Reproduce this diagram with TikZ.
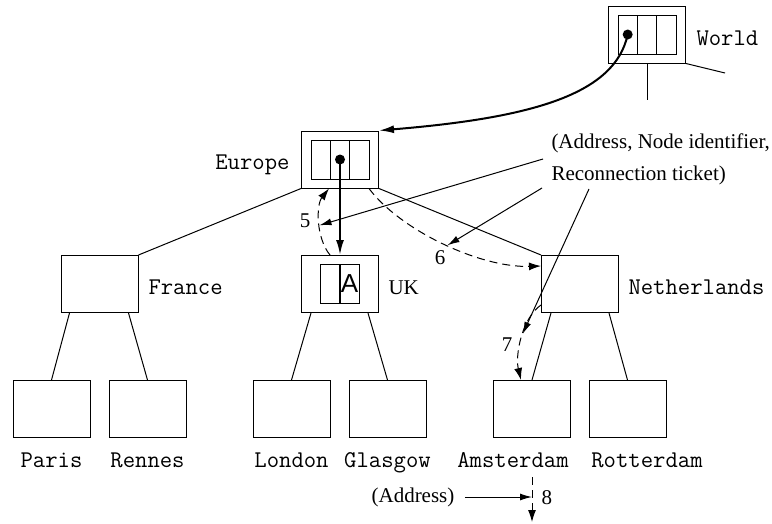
\documentclass[tikz,border=0pt]{standalone}
\usepackage{fontspec}
\setmainfont{Liberation Serif}
\setsansfont{Liberation Sans}
\usetikzlibrary{arrows.meta,positioning,calc}

\begin{document}
\begin{tikzpicture}[x=1pt,y=-1pt,line width=1pt,
  box/.style={draw,minimum width=77pt,minimum height=57pt,inner sep=0pt},
  cell/.style={draw,line width=0.8pt,minimum width=19.33pt,minimum height=39pt,inner sep=0pt,outer sep=0pt},
  dot/.style={circle,fill,inner sep=0pt,minimum size=10pt},
  city/.style={font=\fontsize{24}{28}\ttfamily,inner sep=0pt},
  txt/.style={font=\fontsize{21}{25}\selectfont,inner sep=0pt},
  ptr/.style={line width=2pt,-{Latex[length=15pt,width=8pt]}},
  hop/.style={dash pattern=on 8pt off 5pt,-{Latex[length=12pt,width=8pt]}},
  note/.style={-{Latex[length=12pt,width=7pt]}}]
  \useasboundingbox (0,0) rectangle (772,523);

  % boxes
  \node[box] (wd) at (647,34.5) {};
  \node[box] (eu) at (340,159.5) {};
  \node[box] (fr) at (99.5,284) {};
  \node[box] (uk) at (340,284) {};
  \node[box] (nl) at (580,284) {};
  \node[box] (pa) at (51.5,409) {};
  \node[box] (re) at (147.5,409) {};
  \node[box] (lo) at (291.5,409) {};
  \node[box] (gl) at (387.5,409) {};
  \node[box] (am) at (532,409) {};
  \node[box] (ro) at (627.5,409) {};

  % entry tables
  \node[cell] (w2) at (wd) {};
  \node[cell,left=0pt of w2] (w1) {};
  \node[cell,right=0pt of w2] (w3) {};
  \node[cell] (e2) at (eu) {};
  \node[cell,left=0pt of e2] (e1) {};
  \node[cell,right=0pt of e2] (e3) {};
  \node[cell,anchor=east] (u1) at (uk) {};
  \node[cell,anchor=west] (u2) at (uk) {};
  \draw[line width=2pt] (u2.north west) -- (u2.south west);
  \node[font=\fontsize{26}{26}\sffamily,inner sep=0pt] (ua) at (u2) {A};
  \node[dot] (wdot) at (w1) {};
  \node[dot] (edot) at (e2) {};

  % labels
  \node[city,anchor=base west] (wdl) at (696,45) {World};
  \node[city,anchor=base east] (eul) at (290,169) {Europe};
  \node[city,anchor=base west] (frl) at (148,294) {France};
  \node[txt,anchor=base west] (ukl) at (388,294) {UK};
  \node[city,anchor=base west] (nll) at (628,294) {Netherlands};
  \node[city,anchor=base] (pal) at ($(pa.south)+(0,29)$) {Paris};
  \node[city,anchor=base] (rel) at ($(re.south)+(0,29)$) {Rennes};
  \node[city,anchor=base] (lol) at ($(lo.south)+(0,29)$) {London};
  \node[city,anchor=base] (gll) at ($(gl.south)+(0,29)$) {Glasgow};
  \node[city,anchor=base] (aml) at ($(am.south)+(-19,29)$) {Amsterdam};
  \node[city,anchor=base] (rol) at ($(ro.south)+(19.5,29)$) {Rotterdam};
  \node[txt,align=left,anchor=north west,font=\fontsize{21}{32}\selectfont] (ann) at (551,133)
    {(Address, Node identifier,\\Reconnection ticket)};
  \node[txt] (adr) at (413,497) {(Address)};
  \node[txt] (l5) at (305,221) {5};
  \node[txt] (l6) at (440,258) {6};
  \node[txt] (l7) at (507,345) {7};
  \node[txt,anchor=west] (l8) at (541,498) {8};

  % tree
  \coordinate (wdown) at (647,100);
  \coordinate (wright) at (725,73);
  \draw (wd.south) -- (wdown);
  \draw (wd.south east) -- (wright);
  \draw (eu.south west) -- (fr.north east);
  \draw (eu.south east) -- (nl.north west);
  \draw ($(fr.south)+(-30,0)$) -- (pa.north);
  \draw ($(fr.south)+(29,0)$) -- (re.north);
  \draw ($(uk.south)+(-29,0)$) -- (lo.north);
  \draw ($(uk.south)+(28,0)$) -- (gl.north);
  \draw ($(nl.south)+(-29,0)$) -- (am.north);
  \draw ($(nl.south)+(29,0)$) -- (ro.north);

  % pointers
  \draw[ptr] (wdot.center) .. controls (615,95) and (530,118) .. (eu.north east);
  \draw[ptr] (edot.center) -- (uk.north);

  % steps 5 to 8
  \draw[hop] ($(uk.north)+(-10,0)$) .. controls (316,238) and (316,205) .. ($(eu.south)+(-11,0)$)
    coordinate[pos=0.45] (c5);
  \draw[hop] ($(eu.south east)+(-10,0)$) .. controls (400,230) and (480,268) .. ($(nl.west)+(0,-18)$)
    coordinate[pos=0.52] (c6);
  \draw[hop] ($(nl.south west)+(0,-8)$) .. controls (522,318) and (515,355) .. ($(am.north)+(-11,0)$)
    coordinate[pos=0.45] (c7);
  \coordinate (a8top) at (532,477);
  \coordinate (a8end) at (532,522);
  \draw[hop] (a8top) -- (a8end);

  % annotations
  \coordinate (n1) at (543,159);
  \coordinate (n2) at (542,188);
  \coordinate (n3) at (589,189);
  \draw[note] (n1) -- (c5);
  \draw[note] (n2) -- (c6);
  \draw[note] (n3) -- (c7);
  \draw[note,shorten <=10pt] (adr.east) -- (adr.east -| a8top);
\end{tikzpicture}
\end{document}
